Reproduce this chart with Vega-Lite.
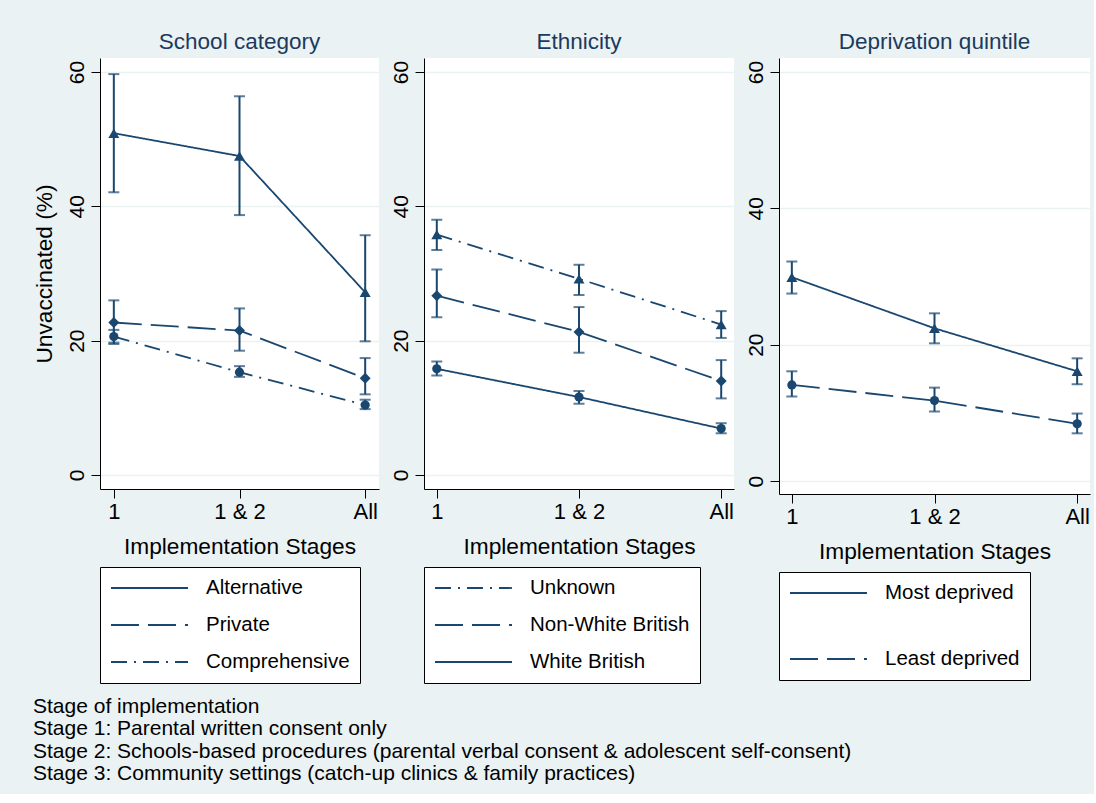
{
  "$schema": "https://vega.github.io/schema/vega-lite/v6.json",
  "background": "#EAF2F3",
  "padding": {"left": 33, "top": 30, "right": 4, "bottom": 10},
  "data": {
    "values": [
      {"panel": "School category", "group": "Alternative", "stage": "1", "est": 50.9, "lo": 42.1, "hi": 59.7},
      {"panel": "School category", "group": "Alternative", "stage": "1 & 2", "est": 47.5, "lo": 38.7, "hi": 56.4},
      {"panel": "School category", "group": "Alternative", "stage": "All", "est": 27.2, "lo": 19.9, "hi": 35.7},
      {"panel": "School category", "group": "Private", "stage": "1", "est": 22.7, "lo": 19.5, "hi": 26.0},
      {"panel": "School category", "group": "Private", "stage": "1 & 2", "est": 21.5, "lo": 18.5, "hi": 24.8},
      {"panel": "School category", "group": "Private", "stage": "All", "est": 14.4, "lo": 12.0, "hi": 17.4},
      {"panel": "School category", "group": "Comprehensive", "stage": "1", "est": 20.6, "lo": 19.7, "hi": 21.6},
      {"panel": "School category", "group": "Comprehensive", "stage": "1 & 2", "est": 15.3, "lo": 14.6, "hi": 16.2},
      {"panel": "School category", "group": "Comprehensive", "stage": "All", "est": 10.4, "lo": 9.8, "hi": 11.2},
      {"panel": "Ethnicity", "group": "Unknown", "stage": "1", "est": 35.8, "lo": 33.5, "hi": 38.0},
      {"panel": "Ethnicity", "group": "Unknown", "stage": "1 & 2", "est": 29.2, "lo": 26.8, "hi": 31.3},
      {"panel": "Ethnicity", "group": "Unknown", "stage": "All", "est": 22.4, "lo": 20.4, "hi": 24.4},
      {"panel": "Ethnicity", "group": "Non-White British", "stage": "1", "est": 26.7, "lo": 23.5, "hi": 30.6},
      {"panel": "Ethnicity", "group": "Non-White British", "stage": "1 & 2", "est": 21.3, "lo": 18.2, "hi": 25.0},
      {"panel": "Ethnicity", "group": "Non-White British", "stage": "All", "est": 14.0, "lo": 11.4, "hi": 17.1},
      {"panel": "Ethnicity", "group": "White British", "stage": "1", "est": 15.8, "lo": 14.8, "hi": 16.9},
      {"panel": "Ethnicity", "group": "White British", "stage": "1 & 2", "est": 11.6, "lo": 10.6, "hi": 12.5},
      {"panel": "Ethnicity", "group": "White British", "stage": "All", "est": 6.9, "lo": 6.2, "hi": 7.7},
      {"panel": "Deprivation quintile", "group": "Most deprived", "stage": "1", "est": 29.9, "lo": 27.5, "hi": 32.2},
      {"panel": "Deprivation quintile", "group": "Most deprived", "stage": "1 & 2", "est": 22.4, "lo": 20.2, "hi": 24.6},
      {"panel": "Deprivation quintile", "group": "Most deprived", "stage": "All", "est": 16.1, "lo": 14.2, "hi": 18.0},
      {"panel": "Deprivation quintile", "group": "Least deprived", "stage": "1", "est": 14.1, "lo": 12.4, "hi": 16.1},
      {"panel": "Deprivation quintile", "group": "Least deprived", "stage": "1 & 2", "est": 11.8, "lo": 10.2, "hi": 13.7},
      {"panel": "Deprivation quintile", "group": "Least deprived", "stage": "All", "est": 8.4, "lo": 7.0, "hi": 9.9}
    ]
  },
  "title": {
    "text": [
      "Stage of implementation",
      "Stage 1: Parental written consent only",
      "Stage 2: Schools-based procedures (parental verbal consent & adolescent self-consent)",
      "Stage 3: Community settings (catch-up clinics & family practices)"
    ],
    "orient": "bottom",
    "anchor": "start",
    "frame": "bounds",
    "fontSize": 21,
    "fontWeight": "normal",
    "font": "Liberation Sans",
    "color": "#000000",
    "lineHeight": 22.5,
    "offset": 12
  },
  "spacing": 11,
  "resolve": {
    "scale": {"x": "independent", "y": "independent", "strokeDash": "independent"},
    "legend": {"strokeDash": "independent"}
  },
  "hconcat": [
    {
      "width": 279,
      "height": 431,
      "title": {"text": "School category"},
      "transform": [{"filter": "datum.panel == 'School category'"}],
      "encoding": {
        "x": {"field": "stage", "type": "ordinal", "sort": ["1", "1 & 2", "All"], "scale": {"type": "point", "padding": 0.11}, "title": "Implementation Stages"},
        "y": {"field": "est", "type": "quantitative", "scale": {"domain": [-2.1, 62.1], "nice": false, "zero": false}, "axis": {"values": [0, 20, 40, 60], "title": "Unvaccinated (%)"}}
      },
      "layer": [
        {
          "mark": {"type": "line", "strokeWidth": 1.8, "color": "#1A476F"},
          "encoding": {
            "strokeDash": {"field": "group", "type": "nominal", "scale": {"domain": ["Alternative", "Private", "Comprehensive"], "range": [[1, 0], [28, 9], [16, 7, 2, 7]]}, "legend": {"rowPadding": 15}}
          }
        },
        {
          "mark": {"type": "errorbar", "ticks": {"size": 11, "color": "#1A476F", "strokeWidth": 2}, "thickness": 2, "color": "#1A476F"},
          "encoding": {
            "y": {"field": "lo", "type": "quantitative", "title": "Unvaccinated (%)"},
            "y2": {"field": "hi"}
          }
        },
        {
          "transform": [{"filter": {"field": "group", "equal": "Alternative"}}],
          "mark": {"type": "point", "shape": "triangle-up", "filled": true, "opacity": 1, "size": 120, "color": "#1A476F"}
        },
        {
          "transform": [{"filter": {"field": "group", "equal": "Private"}}],
          "mark": {"type": "point", "shape": "diamond", "filled": true, "opacity": 1, "size": 120, "color": "#1A476F"}
        },
        {
          "transform": [{"filter": {"field": "group", "equal": "Comprehensive"}}],
          "mark": {"type": "point", "shape": "circle", "filled": true, "opacity": 1, "size": 85, "color": "#1A476F"}
        }
      ]
    },
    {
      "width": 310,
      "height": 431,
      "title": {"text": "Ethnicity"},
      "transform": [{"filter": "datum.panel == 'Ethnicity'"}],
      "encoding": {
        "x": {"field": "stage", "type": "ordinal", "sort": ["1", "1 & 2", "All"], "scale": {"type": "point", "padding": 0.09}, "title": "Implementation Stages"},
        "y": {"field": "est", "type": "quantitative", "scale": {"domain": [-2.1, 62.1], "nice": false, "zero": false}, "axis": {"values": [0, 20, 40, 60], "title": null}}
      },
      "layer": [
        {
          "mark": {"type": "line", "strokeWidth": 1.8, "color": "#1A476F"},
          "encoding": {
            "strokeDash": {"field": "group", "type": "nominal", "scale": {"domain": ["Unknown", "Non-White British", "White British"], "range": [[16, 7, 2, 7], [28, 9], [1, 0]]}, "legend": {"rowPadding": 15}}
          }
        },
        {
          "mark": {"type": "errorbar", "ticks": {"size": 11, "color": "#1A476F", "strokeWidth": 2}, "thickness": 2, "color": "#1A476F"},
          "encoding": {
            "y": {"field": "lo", "type": "quantitative", "title": null},
            "y2": {"field": "hi"}
          }
        },
        {
          "transform": [{"filter": {"field": "group", "equal": "Unknown"}}],
          "mark": {"type": "point", "shape": "triangle-up", "filled": true, "opacity": 1, "size": 120, "color": "#1A476F"}
        },
        {
          "transform": [{"filter": {"field": "group", "equal": "Non-White British"}}],
          "mark": {"type": "point", "shape": "diamond", "filled": true, "opacity": 1, "size": 120, "color": "#1A476F"}
        },
        {
          "transform": [{"filter": {"field": "group", "equal": "White British"}}],
          "mark": {"type": "point", "shape": "circle", "filled": true, "opacity": 1, "size": 85, "color": "#1A476F"}
        }
      ]
    },
    {
      "width": 311,
      "height": 436,
      "title": {"text": "Deprivation quintile"},
      "transform": [{"filter": "datum.panel == 'Deprivation quintile'"}],
      "encoding": {
        "x": {"field": "stage", "type": "ordinal", "sort": ["1", "1 & 2", "All"], "scale": {"type": "point", "padding": 0.09}, "title": "Implementation Stages"},
        "y": {"field": "est", "type": "quantitative", "scale": {"domain": [-1.9, 62.05], "nice": false, "zero": false}, "axis": {"values": [0, 20, 40, 60], "title": null}}
      },
      "layer": [
        {
          "mark": {"type": "line", "strokeWidth": 1.8, "color": "#1A476F"},
          "encoding": {
            "strokeDash": {"field": "group", "type": "nominal", "scale": {"domain": ["Most deprived", "Least deprived"], "range": [[1, 0], [28, 9]]}, "legend": {"rowPadding": 44}}
          }
        },
        {
          "mark": {"type": "errorbar", "ticks": {"size": 11, "color": "#1A476F", "strokeWidth": 2}, "thickness": 2, "color": "#1A476F"},
          "encoding": {
            "y": {"field": "lo", "type": "quantitative", "title": null},
            "y2": {"field": "hi"}
          }
        },
        {
          "transform": [{"filter": {"field": "group", "equal": "Most deprived"}}],
          "mark": {"type": "point", "shape": "triangle-up", "filled": true, "opacity": 1, "size": 120, "color": "#1A476F"}
        },
        {
          "transform": [{"filter": {"field": "group", "equal": "Least deprived"}}],
          "mark": {"type": "point", "shape": "circle", "filled": true, "opacity": 1, "size": 85, "color": "#1A476F"}
        }
      ]
    }
  ],
  "config": {
    "font": "Liberation Sans",
    "view": {"fill": "#FFFFFF", "stroke": null},
    "title": {"fontSize": 22.5, "fontWeight": "normal", "color": "#1C3A5E", "offset": 5, "font": "Liberation Sans"},
    "axis": {
      "domainColor": "#000000",
      "domainWidth": 1,
      "tickColor": "#000000",
      "tickSize": 9,
      "labelColor": "#000000",
      "labelFontSize": 21,
      "titleColor": "#000000",
      "titleFontSize": 22.7,
      "titleFontWeight": "normal",
      "gridColor": "#EAF2F3",
      "gridWidth": 1.5
    },
    "axisX": {"labelAngle": 0, "grid": false, "labelFontSize": 22, "labelPadding": 3, "titlePadding": 13},
    "axisY": {"grid": true, "labelAngle": 270, "labelAlign": "center", "labelBaseline": "bottom", "labelPadding": 4, "titlePadding": 10},
    "legend": {
      "orient": "bottom",
      "direction": "vertical",
      "title": null,
      "symbolType": "M-1,0H6.7",
      "symbolSize": 400,
      "symbolStrokeWidth": 1.8,
      "symbolStrokeColor": "#1A476F",
      "symbolFillColor": "transparent",
      "labelFontSize": 20.5,
      "labelColor": "#000000",
      "labelOffset": 74,
      "padding": 10,
      "strokeColor": "#000000",
      "fillColor": "#FFFFFF",
      "offset": 9
    }
  }
}
